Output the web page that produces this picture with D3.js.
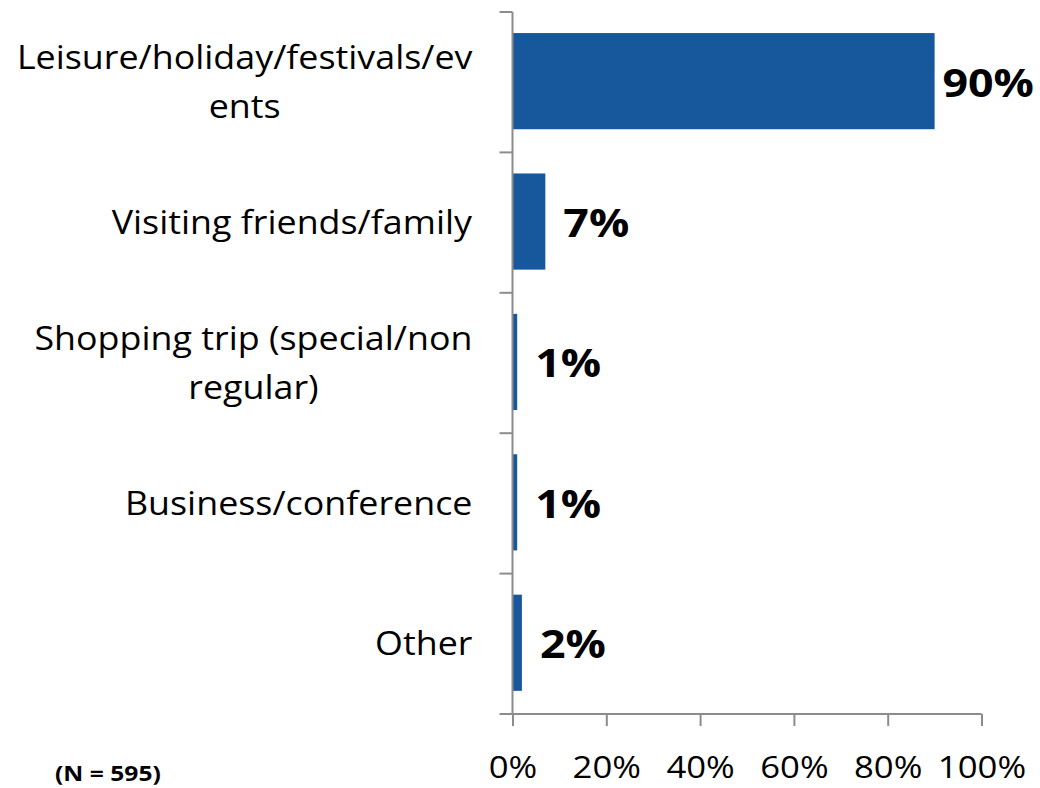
<!DOCTYPE html>
<html>
<head>
<meta charset="utf-8">
<script src="https://cdn.jsdelivr.net/npm/d3@7"></script>
<style>
  html, body { margin: 0; padding: 0; background: #ffffff; }
  svg { display: block; }
  text { font-family: "Open Sans", Lato, sans-serif; fill: #000; }
</style>
</head>
<body>
<svg id="chart" width="1040" height="788"></svg>
<script>
// Purpose of trip (share of respondents)
const categories = [
  "Leisure/holiday/festivals/events",
  "Visiting friends/family",
  "Shopping trip (special/non regular)",
  "Business/conference",
  "Other"
];
// Wrapped lines for each category label, as laid out in the chart
const categoryLines = [
  ["Leisure/holiday/festivals/ev", "ents"],
  ["Visiting friends/family"],
  ["Shopping trip (special/non", "regular)"],
  ["Business/conference"],
  ["Other"]
];
const values = [90, 7, 1, 1, 2];
const tickValues = [0, 20, 40, 60, 80, 100];
const sampleNote = "(N = 595)";

const svg = d3.select("#chart");
const W = 1040, H = 788;
const margin = { left: 512.5, right: 58.5, top: 12, bottom: 74 };

const barColor = "#17579b";
const axisColor = "#8c8c8c";
const fontFamily = "'Open Sans', Lato, sans-serif";
const textStretch = 1.12;   // widen glyphs horizontally

const x = d3.scaleLinear()
  .domain([0, 100])
  .range([margin.left, W - margin.right]);

const y = d3.scaleBand()
  .domain(categories)
  .range([margin.top, H - margin.bottom])
  .padding(0);

const barInset = 0.15, barFrac = 0.685;

// Bars
svg.append("g")
  .selectAll("rect")
  .data(categories)
  .join("rect")
  .attr("x", x(0))
  .attr("y", d => y(d) + y.bandwidth() * barInset)
  .attr("width", (d, i) => x(values[i]) - x(0))
  .attr("height", y.bandwidth() * barFrac)
  .attr("fill", barColor);

// X axis (ticks below the baseline)
const xAxis = d3.axisBottom(x)
  .tickValues(tickValues)
  .tickFormat(d => d + "%")
  .tickSize(12)
  .tickPadding(30);

const gx = svg.append("g")
  .attr("transform", `translate(0,${H - margin.bottom})`)
  .call(xAxis);
gx.select(".domain").attr("stroke", axisColor).attr("stroke-width", 2)
  .attr("d", `M${x(0)},0H${x(100)}`);
gx.selectAll(".tick line").attr("stroke", axisColor).attr("stroke-width", 2);
gx.selectAll(".tick text")
  .attr("font-size", 31)
  .attr("font-family", fontFamily)
  .attr("fill", "#000")
  .attr("transform", `scale(${textStretch},1)`);

// Y axis: a vertical line with ticks at category boundaries
const gy = svg.append("g");
gy.append("line")
  .attr("x1", x(0)).attr("x2", x(0))
  .attr("y1", y.range()[0]).attr("y2", y.range()[1])
  .attr("stroke", axisColor).attr("stroke-width", 2);
const boundaries = categories.map(c => y(c)).concat([y.range()[1]]);
gy.selectAll("line.tick")
  .data(boundaries)
  .join("line")
  .attr("class", "tick")
  .attr("x1", x(0) - 13).attr("x2", x(0))
  .attr("y1", d => d).attr("y2", d => d)
  .attr("stroke", axisColor).attr("stroke-width", 2);

// Category labels: centred lines, block right-aligned near the axis
const labelRight = x(0) - 40;
const lineH = 49.5;
const labelG = svg.append("g");
categories.forEach((c, i) => {
  const lines = categoryLines[i];
  const cy = y(c) + y.bandwidth() / 2;
  const g = labelG.append("g");
  const t = g.append("text")
    .attr("font-size", 32)
    .attr("text-anchor", "middle");
  lines.forEach((ln, j) => {
    t.append("tspan")
      .attr("x", 0)
      .attr("y", (j - (lines.length - 1) / 2) * lineH)
      .attr("dy", "0.36em")
      .text(ln);
  });
  const w = t.node().getBBox().width * textStretch;
  g.attr("transform", `translate(${labelRight - w / 2},${cy}) scale(${textStretch},1)`);
});

// Value labels
const valueG = svg.append("g");
categories.forEach((c, i) => {
  const g = valueG.append("g");
  const t = g.append("text")
    .attr("font-size", 40)
    .attr("font-weight", 700)
    .attr("dy", "0.36em")
    .text(values[i] + "%");
  const w = t.node().getBBox().width * textStretch;
  let lx = x(values[i]) + 18;
  if (lx + w > W - 6) lx = W - 6 - w;
  g.attr("transform", `translate(${lx},${y(c) + y.bandwidth() / 2}) scale(${textStretch},1)`);
});

// Sample size note
svg.append("g")
  .attr("transform", `translate(55,781) scale(${textStretch},1)`)
  .append("text")
  .attr("font-size", 22)
  .attr("font-weight", 700)
  .text(sampleNote);
</script>
</body>
</html>
